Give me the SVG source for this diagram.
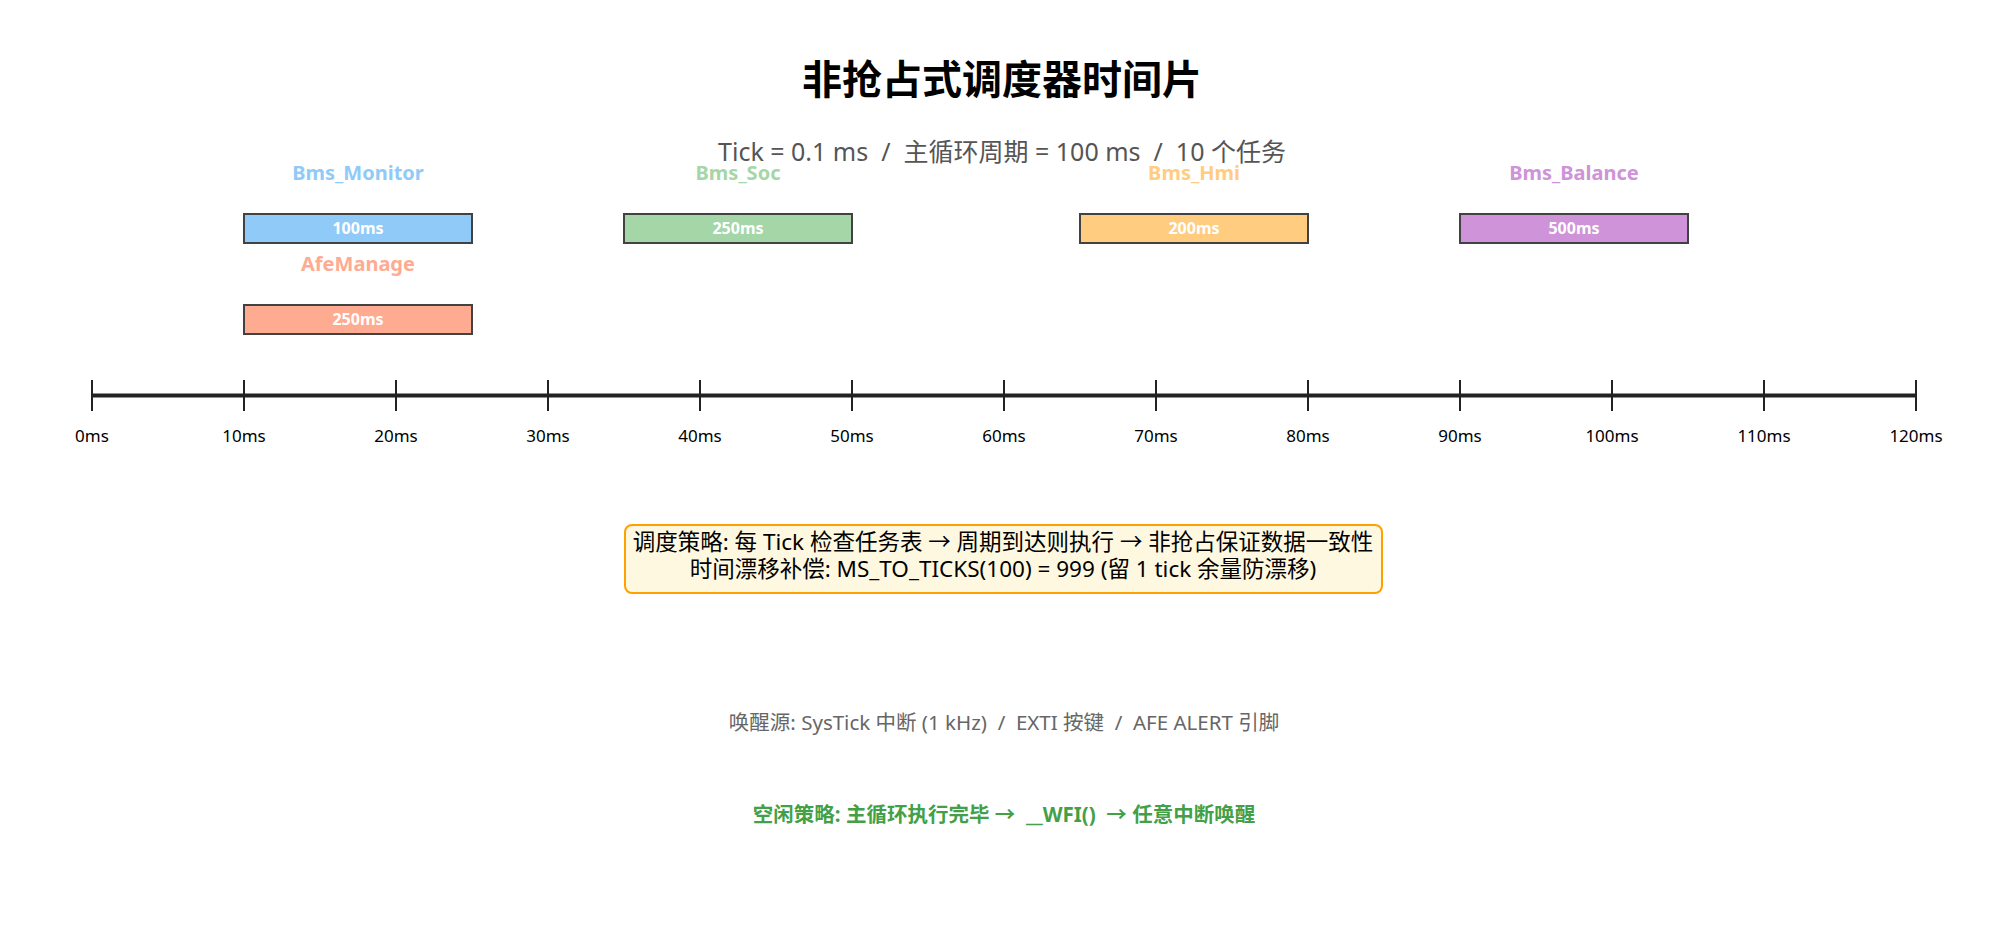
<svg xmlns="http://www.w3.org/2000/svg" width="2007" height="944" viewBox="0 0 2007 944">
<style>
text{font-family:"Noto Sans","Noto Sans CJK SC",sans-serif;text-anchor:middle}
.title{font-size:40px;font-weight:bold;fill:#000;font-family:"Noto Sans CJK SC",sans-serif}
.sub{font-size:25px;fill:#555}
.tname{font-size:20px;font-weight:bold}
.bar{stroke:#424242;stroke-width:2}
.blabel{font-size:16px;font-weight:bold;fill:#fff}
.tick{stroke:#222;stroke-width:2}
.tl{font-size:17px;fill:#000}
.box{fill:#FFF8E1;stroke:#FFA000;stroke-width:2}
.bt{font-size:22.5px;fill:#000}
.wake{font-size:20.5px;fill:#666}
.idle{font-size:20.5px;font-weight:bold;fill:#43A047}
</style>
<rect width="2007" height="944" fill="#fff"/>
<g id="title"><text class="title" x="1002" y="94">非抢占式调度器时间片</text></g>
<g id="subtitle"><text class="sub" x="1002" y="161" xml:space="preserve">Tick = 0.1 ms  /  主循环周期 = 100 ms  /  10 个任务</text></g>
<g id="task-monitor">
<text class="tname" x="358" y="180" fill="#90CAF9">Bms_Monitor</text>
<rect class="bar" x="244" y="214" width="228" height="29" fill="#90CAF9"/>
<text class="blabel" x="358" y="234">100ms</text>
</g>
<g id="task-afe">
<text class="tname" x="358" y="271" fill="#FFAB91">AfeManage</text>
<rect class="bar" x="244" y="305" width="228" height="29" fill="#FFAB91"/>
<text class="blabel" x="358" y="325">250ms</text>
</g>
<g id="task-soc">
<text class="tname" x="738" y="180" fill="#A5D6A7">Bms_Soc</text>
<rect class="bar" x="624" y="214" width="228" height="29" fill="#A5D6A7"/>
<text class="blabel" x="738" y="234">250ms</text>
</g>
<g id="task-hmi">
<text class="tname" x="1194" y="180" fill="#FFCC80">Bms_Hmi</text>
<rect class="bar" x="1080" y="214" width="228" height="29" fill="#FFCC80"/>
<text class="blabel" x="1194" y="234">200ms</text>
</g>
<g id="task-balance">
<text class="tname" x="1574" y="180" fill="#CE93D8">Bms_Balance</text>
<rect class="bar" x="1460" y="214" width="228" height="29" fill="#CE93D8"/>
<text class="blabel" x="1574" y="234">500ms</text>
</g>
<g id="axis">
<line x1="92" y1="395.5" x2="1916" y2="395.5" stroke="#222" stroke-width="4"/>
<line class="tick" x1="92" y1="380" x2="92" y2="411"/>
<line class="tick" x1="244" y1="380" x2="244" y2="411"/>
<line class="tick" x1="396" y1="380" x2="396" y2="411"/>
<line class="tick" x1="548" y1="380" x2="548" y2="411"/>
<line class="tick" x1="700" y1="380" x2="700" y2="411"/>
<line class="tick" x1="852" y1="380" x2="852" y2="411"/>
<line class="tick" x1="1004" y1="380" x2="1004" y2="411"/>
<line class="tick" x1="1156" y1="380" x2="1156" y2="411"/>
<line class="tick" x1="1308" y1="380" x2="1308" y2="411"/>
<line class="tick" x1="1460" y1="380" x2="1460" y2="411"/>
<line class="tick" x1="1612" y1="380" x2="1612" y2="411"/>
<line class="tick" x1="1764" y1="380" x2="1764" y2="411"/>
<line class="tick" x1="1916" y1="380" x2="1916" y2="411"/>
<text class="tl" x="92" y="442">0ms</text>
<text class="tl" x="244" y="442">10ms</text>
<text class="tl" x="396" y="442">20ms</text>
<text class="tl" x="548" y="442">30ms</text>
<text class="tl" x="700" y="442">40ms</text>
<text class="tl" x="852" y="442">50ms</text>
<text class="tl" x="1004" y="442">60ms</text>
<text class="tl" x="1156" y="442">70ms</text>
<text class="tl" x="1308" y="442">80ms</text>
<text class="tl" x="1460" y="442">90ms</text>
<text class="tl" x="1612" y="442">100ms</text>
<text class="tl" x="1764" y="442">110ms</text>
<text class="tl" x="1916" y="442">120ms</text>
</g>
<g id="strategy">
<rect class="box" x="625" y="525" width="757" height="68" rx="7"/>
<text class="bt" x="1003" y="550">调度策略: 每 Tick 检查任务表 → 周期到达则执行 → 非抢占保证数据一致性</text>
<text class="bt" x="1003" y="577">时间漂移补偿: MS_TO_TICKS(100) = 999 (留 1 tick 余量防漂移)</text>
</g>
<g id="wake"><text class="wake" x="1004" y="730" xml:space="preserve">唤醒源: SysTick 中断 (1 kHz)  /  EXTI 按键  /  AFE ALERT 引脚</text></g>
<g id="idle"><text class="idle" x="1004" y="822" xml:space="preserve">空闲策略: 主循环执行完毕 →  __WFI()  → 任意中断唤醒</text></g>
</svg>
